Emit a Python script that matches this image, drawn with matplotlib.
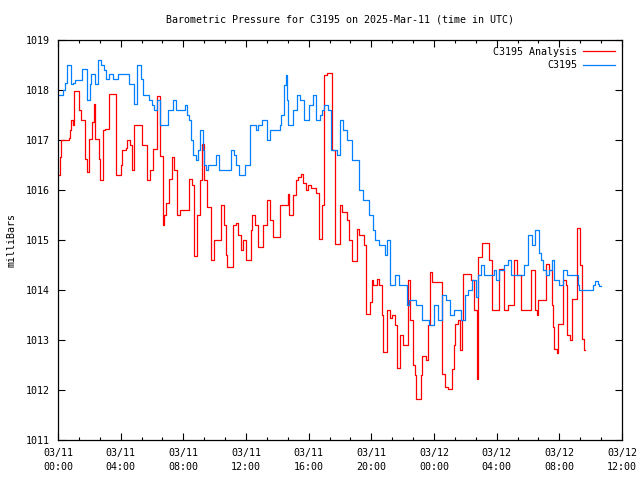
import matplotlib
matplotlib.use("Agg")
import matplotlib.pyplot as plt
from matplotlib.ticker import MultipleLocator

# hours since 03/11 00:00 UTC, pressure in mb (step changes)
analysis_hours = [0.0, 0.13, 0.21, 0.68, 0.77, 0.83, 0.94, 1.04, 1.32, 1.47, 1.72, 1.83,
                  2.00, 2.17, 2.28, 2.38, 2.64, 2.70, 2.89, 3.02, 3.23, 3.70, 4.02, 4.08,
                  4.34, 4.43, 4.60, 4.72, 4.87, 5.36, 5.68, 5.90, 6.05, 6.34, 6.51, 6.72,
                  6.79, 6.89, 7.11, 7.26, 7.40, 7.62, 7.79, 8.38, 8.53, 8.70, 8.89, 9.06,
                  9.17, 9.32, 9.53, 9.75, 9.96, 10.38, 10.60, 10.72, 10.81, 11.15, 11.36,
                  11.51, 11.66, 11.83, 12.00, 12.32, 12.40, 12.57, 12.75, 13.11, 13.32,
                  13.53, 13.74, 14.17, 14.66, 14.74, 15.02, 15.17, 15.34, 15.51, 15.66,
                  15.81, 15.94, 16.15, 16.45, 16.66, 16.87, 17.00, 17.15, 17.47, 17.68,
                  18.00, 18.11, 18.47, 18.60, 18.74, 19.06, 19.23, 19.53, 19.66, 19.91,
                  20.02, 20.13, 20.34, 20.51, 20.66, 20.72, 21.02, 21.19, 21.34, 21.51,
                  21.66, 21.83, 22.00, 22.32, 22.47, 22.64, 22.79, 22.85, 23.15, 23.21,
                  23.49, 23.64, 23.74, 23.85, 24.49, 24.53, 24.70, 24.87, 25.13, 25.30,
                  25.34, 25.51, 25.66, 25.77, 25.87, 26.36, 26.57, 26.72, 26.79, 27.04,
                  27.51, 27.68, 28.15, 28.49, 28.70, 29.13, 29.28, 29.55, 30.19, 30.45,
                  30.55, 30.66, 31.15, 31.36, 31.51, 31.62, 31.66, 31.83, 31.94, 32.21,
                  32.43, 32.51, 32.68, 32.81, 33.11, 33.32, 33.43, 33.55, 33.62]
analysis_mb = [1016.30, 1016.67, 1017.01, 1017.05, 1017.20, 1017.40, 1017.30, 1017.98,
               1017.60, 1017.41, 1016.63, 1016.37, 1017.03, 1017.37, 1017.73, 1017.03,
               1016.63, 1016.21, 1017.20, 1017.23, 1017.93, 1016.30, 1016.50, 1016.80,
               1016.85, 1017.00, 1016.90, 1016.40, 1017.30, 1016.90, 1016.20, 1016.40,
               1016.83, 1017.88, 1016.69, 1015.30, 1015.50, 1015.74, 1016.22, 1016.67,
               1016.40, 1015.50, 1015.60, 1016.23, 1016.10, 1014.68, 1015.50, 1016.20,
               1016.93, 1016.20, 1015.66, 1014.60, 1015.00, 1015.70, 1015.30, 1014.70,
               1014.47, 1015.30, 1015.34, 1015.10, 1014.80, 1015.00, 1014.60, 1015.20,
               1015.50, 1015.30, 1014.87, 1015.30, 1015.80, 1015.40, 1015.07, 1015.70,
               1015.93, 1015.50, 1015.90, 1016.20, 1016.27, 1016.33, 1016.15, 1016.00,
               1016.10, 1016.04, 1015.95, 1015.03, 1015.70, 1018.30, 1018.35, 1016.80,
               1014.93, 1015.70, 1015.57, 1015.40, 1015.00, 1014.58, 1015.22, 1015.10,
               1014.90, 1013.53, 1013.77, 1014.20, 1014.10, 1014.23, 1014.10, 1013.50,
               1012.77, 1013.60, 1013.45, 1013.50, 1013.30, 1012.45, 1013.10, 1012.90,
               1014.20, 1013.40, 1012.50, 1012.30, 1011.83, 1012.30, 1012.68, 1012.60,
               1013.30, 1014.37, 1014.17, 1013.00, 1012.33, 1012.07, 1012.03, 1012.43,
               1012.90, 1013.33, 1013.40, 1012.80, 1013.40, 1014.33, 1014.20, 1013.60,
               1012.23, 1014.67, 1014.95, 1014.60, 1013.60, 1014.43, 1013.60, 1013.70,
               1014.60, 1014.30, 1013.60, 1014.41, 1013.60, 1013.50, 1013.80, 1014.53,
               1014.40, 1013.70, 1013.27, 1012.83, 1012.75, 1013.33, 1014.20, 1014.10,
               1013.10, 1013.00, 1013.83, 1015.25, 1014.50, 1013.03, 1012.80, 1012.80]

station_hours = [0.0, 0.30, 0.47, 0.57, 0.81, 0.94, 1.07, 1.53, 1.83, 2.04, 2.13, 2.34,
                 2.55, 2.76, 2.94, 3.06, 3.27, 3.53, 3.81, 4.55, 4.85, 5.06, 5.32, 5.41,
                 5.79, 6.00, 6.11, 6.34, 6.51, 7.04, 7.32, 7.53, 8.09, 8.21, 8.34, 8.47,
                 8.60, 8.81, 8.96, 9.06, 9.23, 9.34, 9.45, 9.60, 10.09, 10.30, 11.06,
                 11.23, 11.36, 11.53, 11.96, 12.26, 12.62, 12.75, 13.04, 13.32, 13.53,
                 14.17, 14.23, 14.45, 14.53, 14.62, 14.70, 14.98, 15.24, 15.47, 15.72,
                 16.02, 16.26, 16.47, 16.72, 16.87, 17.00, 17.21, 17.43, 17.79, 18.02,
                 18.21, 18.43, 18.77, 19.23, 19.49, 19.83, 20.09, 20.26, 20.51, 20.85,
                 21.02, 21.21, 21.49, 21.75, 22.26, 22.42, 22.85, 23.25, 23.70, 24.00,
                 24.23, 24.49, 24.77, 25.00, 25.26, 25.72, 25.98, 26.19, 26.44, 26.68,
                 26.79, 27.00, 27.19, 27.81, 27.94, 28.15, 28.45, 28.70, 28.91, 29.72,
                 29.98, 30.25, 30.45, 30.68, 30.81, 30.98, 31.15, 31.36, 31.51, 31.68,
                 31.96, 32.21, 32.47, 33.19, 33.27, 34.17, 34.30, 34.45, 34.55, 34.65]
station_mb = [1017.91, 1018.01, 1018.14, 1018.51, 1018.12, 1018.15, 1018.21, 1018.42,
              1017.81, 1018.12, 1018.32, 1018.12, 1018.61, 1018.50, 1018.40, 1018.22,
              1018.32, 1018.22, 1018.32, 1018.12, 1017.72, 1018.51, 1018.22, 1017.91,
              1017.81, 1017.71, 1017.61, 1017.81, 1017.31, 1017.61, 1017.81, 1017.61,
              1017.71, 1017.50, 1017.40, 1017.00, 1016.71, 1016.61, 1016.81, 1017.21,
              1016.81, 1016.51, 1016.41, 1016.51, 1016.71, 1016.41, 1016.81, 1016.71,
              1016.51, 1016.31, 1016.51, 1017.31, 1017.21, 1017.31, 1017.41, 1017.01,
              1017.21, 1017.31, 1017.51, 1018.11, 1018.31, 1017.81, 1017.31, 1017.61,
              1017.91, 1017.81, 1017.41, 1017.71, 1017.91, 1017.41, 1017.51, 1017.61,
              1017.71, 1017.61, 1016.81, 1016.71, 1017.41, 1017.21, 1017.01, 1016.61,
              1016.01, 1015.81, 1015.51, 1015.21, 1015.01, 1014.91, 1014.71, 1015.01,
              1014.11, 1014.31, 1014.11, 1013.71, 1013.81, 1013.71, 1013.41, 1013.31,
              1013.71, 1013.40, 1013.90, 1013.80, 1013.50, 1013.60, 1013.40, 1013.90,
              1014.00, 1014.20, 1013.87, 1014.30, 1014.50, 1014.30, 1014.40, 1014.20,
              1014.40, 1014.50, 1014.60, 1014.30, 1014.50, 1015.10, 1014.91, 1015.21,
              1014.75, 1014.60, 1014.41, 1014.31, 1014.41, 1014.60, 1014.20, 1014.10,
              1014.40, 1014.30, 1014.10, 1014.00, 1014.10, 1014.18, 1014.12, 1014.08,
              1014.08]

xtick_hours = list(range(0, 37, 4))
xtick_labels = ["03/11\n00:00", "03/11\n04:00", "03/11\n08:00", "03/11\n12:00",
                "03/11\n16:00", "03/11\n20:00", "03/12\n00:00", "03/12\n04:00",
                "03/12\n08:00", "03/12\n12:00"]

mono = "DejaVu Sans Mono"
fs = 7.2

fig = plt.figure(figsize=(6.4, 4.8), dpi=100)
ax = fig.add_axes([58 / 640, 40 / 480, 564 / 640, 400 / 480])

ax.plot(analysis_hours, analysis_mb, drawstyle="steps-post", color="#ff0000",
        lw=0.9, label="C3195 Analysis")
ax.plot(station_hours, station_mb, drawstyle="steps-post", color="#0080ff",
        lw=0.9, label="C3195")

ax.set_xlim(0, 36)
ax.set_ylim(1011, 1019)
ax.set_xticks(xtick_hours)
ax.set_xticklabels(xtick_labels, fontfamily=mono, fontsize=fs, linespacing=1.5)
ax.xaxis.set_minor_locator(MultipleLocator(4 / 3))
ax.yaxis.set_major_locator(MultipleLocator(1))
for lab in ax.get_yticklabels():
    lab.set_fontfamily(mono)
    lab.set_fontsize(fs)
ax.tick_params(which="both", direction="in", top=True, right=True, width=0.8)
ax.tick_params(which="major", length=5, pad=6)
ax.tick_params(which="minor", length=2.5)
for s in ax.spines.values():
    s.set_linewidth(0.9)

fig.text(340 / 640, 1 - 19 / 480, "Barometric Pressure for C3195 on 2025-Mar-11 (time in UTC)",
         ha="center", va="center", fontfamily=mono, fontsize=fs)
fig.text(12 / 640, 0.5, "milliBars", rotation=90, ha="center", va="center",
         fontfamily=mono, fontsize=fs)

ax.legend(loc="upper right", frameon=False, markerfirst=False, handlelength=3.2,
          prop={"family": mono, "size": fs}, borderaxespad=0.3, labelspacing=0.35,
          handletextpad=0.6)

plt.savefig("out.png", dpi=100)
